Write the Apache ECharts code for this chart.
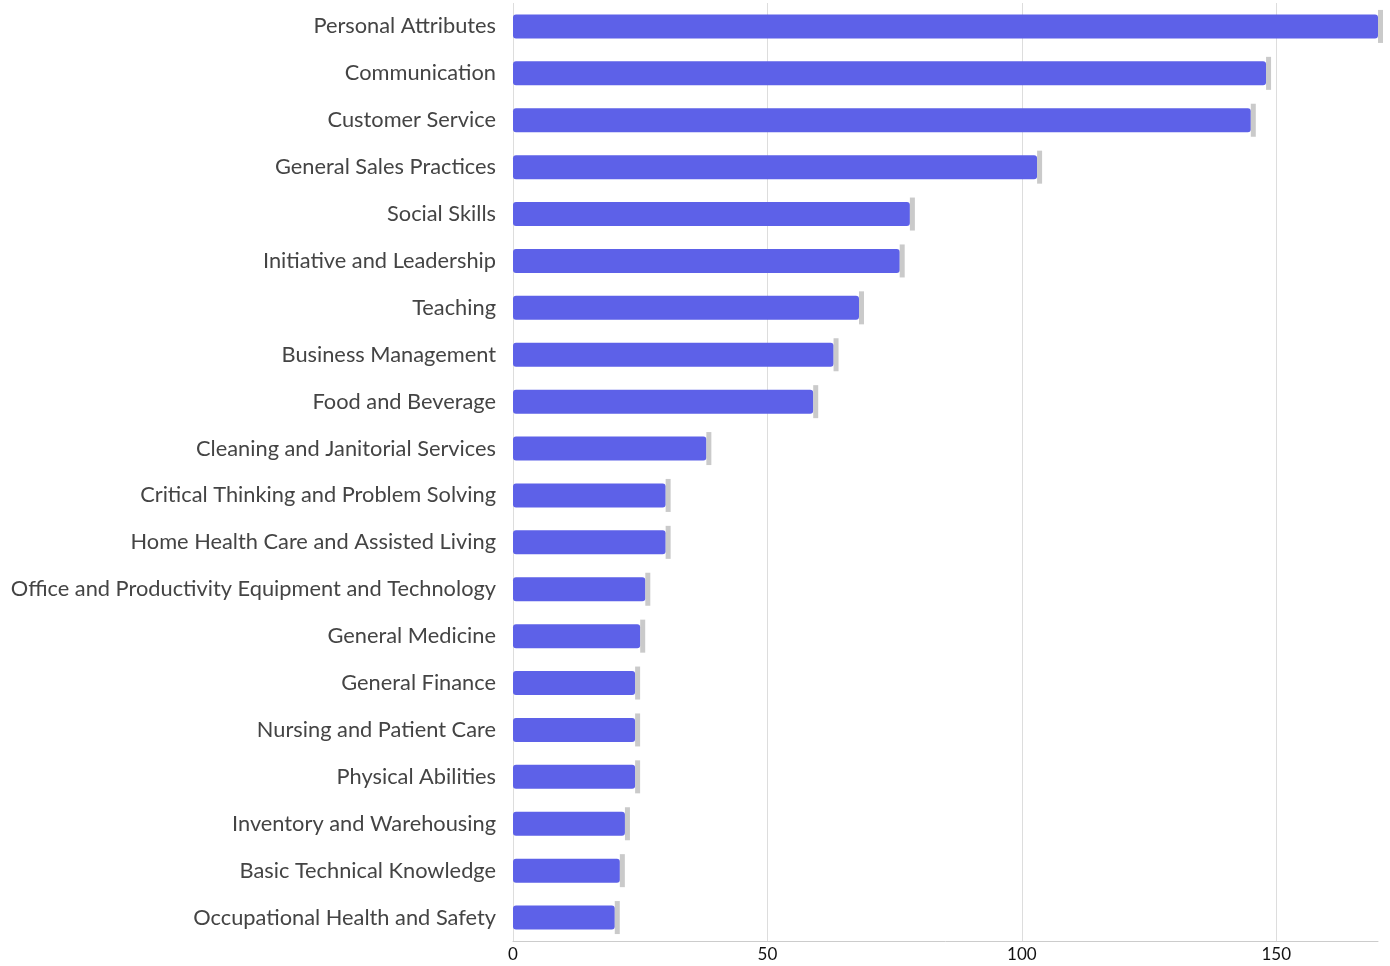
<!DOCTYPE html>
<html>
<head>
<meta charset="utf-8">
<script src="https://cdn.jsdelivr.net/npm/echarts@6/dist/echarts.min.js"></script>
<style>
  html, body { margin: 0; padding: 0; background: #fff; }
  #chart { width: 1390px; height: 966px; }
</style>
</head>
<body>
<div id="chart"></div>
<script>
// Skill categories, listed top to bottom
const categories = [
  'Personal Attributes',
  'Communication',
  'Customer Service',
  'General Sales Practices',
  'Social Skills',
  'Initiative and Leadership',
  'Teaching',
  'Business Management',
  'Food and Beverage',
  'Cleaning and Janitorial Services',
  'Critical Thinking and Problem Solving',
  'Home Health Care and Assisted Living',
  'Office and Productivity Equipment and Technology',
  'General Medicine',
  'General Finance',
  'Nursing and Patient Care',
  'Physical Abilities',
  'Inventory and Warehousing',
  'Basic Technical Knowledge',
  'Occupational Health and Safety'
];

// Count per category
const counts = [170, 148, 145, 103, 78, 76, 68, 63, 59, 38, 30, 30, 26, 25, 24, 24, 24, 22, 21, 20];

// Value axis ticks
const xTicks = [0, 50, 100, 150];
const xMax = 170;

const chart = echarts.init(document.getElementById('chart'), null, { renderer: 'canvas' });

// ECharts category axis runs bottom-up, so reverse to keep the largest on top
const cats = categories.slice().reverse();
const vals = counts.slice().reverse();

// grid lines only at the labelled ticks, none at the axis end
const gridColors = xTicks.map(() => '#dddddd').concat(['rgba(0,0,0,0)']);

chart.setOption({
  animation: false,
  grid: { left: 513, right: 12, top: 3, bottom: 25, containLabel: false },
  xAxis: {
    type: 'value',
    min: 0,
    max: xMax,
    interval: 50,
    axisLine: { show: true, lineStyle: { color: '#cccccc', width: 1 } },
    axisTick: { show: false },
    splitLine: { show: true, lineStyle: { color: gridColors, width: 1 } },
    axisLabel: {
      color: '#111',
      fontFamily: 'Lato',
      fontSize: 17,
      margin: 5,
      showMaxLabel: false,
      formatter: v => (xTicks.indexOf(v) >= 0 ? String(v) : '')
    }
  },
  yAxis: {
    type: 'category',
    data: cats,
    axisLine: { show: false },
    axisTick: { show: false },
    axisLabel: {
      color: '#444',
      fontFamily: 'Lato',
      fontSize: 21.8,
      margin: 17
    }
  },
  series: [
    {
      type: 'bar',
      data: vals,
      barWidth: 24,
      itemStyle: {
        color: '#5d61e8',
        borderRadius: 3
      },
      z: 2
    },
    {
      // grey end marker at each bar's tip
      type: 'scatter',
      data: vals.map((v, i) => [v, i]),
      symbol: 'rect',
      symbolSize: [5, 33],
      symbolOffset: [2.5, 0],
      itemStyle: { color: '#bdbdbd' },
      silent: true,
      z: 3
    }
  ]
});
</script>
</body>
</html>
